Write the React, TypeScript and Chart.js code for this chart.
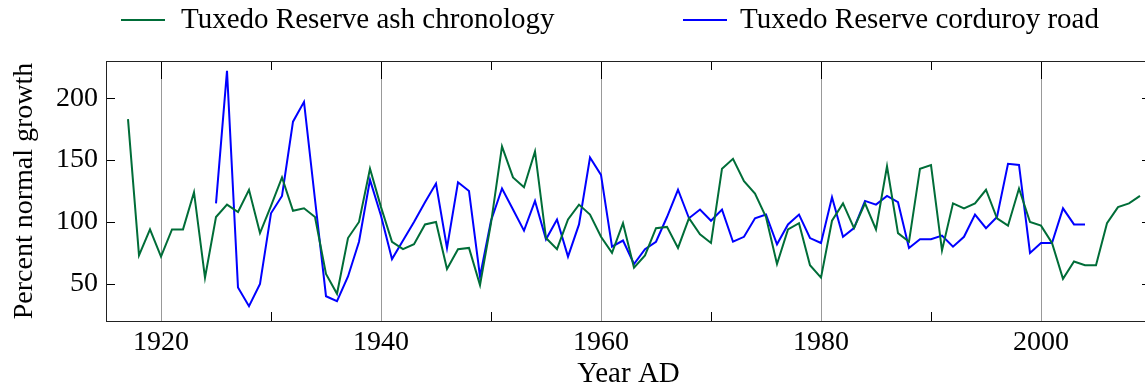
import React, { useEffect, useRef } from 'react';
import { Chart, registerables } from 'chart.js';

Chart.register(...registerables);

const years = [
  1917, 1918, 1919, 1920, 1921, 1922, 1923, 1924, 1925, 1926,
  1927, 1928, 1929, 1930, 1931, 1932, 1933, 1934, 1935, 1936,
  1937, 1938, 1939, 1940, 1941, 1942, 1943, 1944, 1945, 1946,
  1947, 1948, 1949, 1950, 1951, 1952, 1953, 1954, 1955, 1956,
  1957, 1958, 1959, 1960, 1961, 1962, 1963, 1964, 1965, 1966,
  1967, 1968, 1969, 1970, 1971, 1972, 1973, 1974, 1975, 1976,
  1977, 1978, 1979, 1980, 1981, 1982, 1983, 1984, 1985, 1986,
  1987, 1988, 1989, 1990, 1991, 1992, 1993, 1994, 1995, 1996,
  1997, 1998, 1999, 2000, 2001, 2002, 2003, 2004, 2005, 2006,
  2007, 2008, 2009,
];

const ashValues = [
  183, 73, 94, 72, 94, 94, 124, 55, 104, 114,
  108, 126, 91, 113, 136, 109, 111, 104, 58, 42,
  87, 100, 143, 112, 84, 78, 82, 98, 100, 62,
  78, 79, 49, 99, 161, 136, 128, 157, 87, 78,
  102, 114, 106, 88, 75, 99, 63, 73, 95, 96,
  79, 103, 90, 83, 143, 151, 133, 123, 104, 66,
  94, 99, 65, 55, 101, 115, 95, 115, 94, 145,
  91, 84, 143, 146, 77, 115, 111, 115, 126, 103,
  97, 127, 100, 97, 83, 54, 68, 65, 65, 99,
  112, 115, 121,
];

const roadValues = [
  null, null, null, null, null, null, null, null, 115, 222,
  47, 32, 50, 107, 121, 181, 197, 118, 40, 36,
  56, 84, 134, 105, 70, 85, 100, 116, 131, 79,
  132, 125, 56, 101, 127, 110, 93, 117, 86, 102,
  72, 98, 152, 138, 80, 85, 66, 78, 84, 104,
  126, 103, 110, 101, 110, 84, 88, 103, 106, 82,
  98, 106, 87, 83, 120, 88, 95, 117, 114, 121,
  116, 79, 86, 86, 89, 80, 88, 106, 95, 104,
  147, 146, 75, 83, 83, 111, 98, 98, null, null,
  null, null, null,
];

const xMajorTicks = [1920, 1940, 1960, 1980, 2000];
const xMinorTicks = [1930, 1950, 1970, 1990];
const yTicks = [50, 100, 150, 200];
const seriesNames = ['Tuxedo Reserve ash chronology', 'Tuxedo Reserve corduroy road'];
const xTitle = 'Year AD';
const yTitle = 'Percent normal growth';

const ASH_COLOR = '#006d38';
const ROAD_COLOR = '#0000ff';
const FONT = '"Liberation Serif", "Times New Roman", serif';

const framePlugin = {
  id: 'frameTicks',
  beforeDatasetsDraw(chart: any) {
    const { ctx, chartArea: a, scales } = chart;
    const xs = scales.x;
    const ys = scales.y;
    ctx.save();
    ctx.strokeStyle = '#000';
    ctx.lineWidth = 1;
    ctx.beginPath();
    xMinorTicks.forEach((v) => {
      const px = Math.round(xs.getPixelForValue(v)) + 0.5;
      ctx.moveTo(px, a.top);
      ctx.lineTo(px, a.top + 9);
      ctx.moveTo(px, a.bottom);
      ctx.lineTo(px, a.bottom - 9);
    });
    xMajorTicks.forEach((v) => {
      const px = Math.round(xs.getPixelForValue(v)) + 0.5;
      ctx.moveTo(px, a.top);
      ctx.lineTo(px, a.top + 18);
    });
    yTicks.forEach((v) => {
      const py = Math.round(ys.getPixelForValue(v)) + 0.5;
      ctx.moveTo(a.left, py);
      ctx.lineTo(a.left + 9, py);
      ctx.moveTo(a.right, py);
      ctx.lineTo(a.right - 9, py);
    });
    ctx.stroke();
    ctx.strokeStyle = '#222';
    ctx.strokeRect(Math.round(a.left) + 0.5, Math.round(a.top) + 0.5, Math.round(a.right - a.left), Math.round(a.bottom - a.top));
    ctx.restore();
  },
};

const legendPlugin = {
  id: 'customLegend',
  afterDraw(chart: any) {
    const { ctx } = chart;
    const items = [
      { color: ASH_COLOR, x: 121, tx: 181, text: seriesNames[0] },
      { color: ROAD_COLOR, x: 683, tx: 740, text: seriesNames[1] },
    ];
    ctx.save();
    ctx.font = `29px ${FONT}`;
    ctx.textBaseline = 'middle';
    ctx.textAlign = 'left';
    items.forEach((it) => {
      ctx.strokeStyle = it.color;
      ctx.lineWidth = 2;
      ctx.beginPath();
      ctx.moveTo(it.x, 20);
      ctx.lineTo(it.x + 44, 20);
      ctx.stroke();
      ctx.fillStyle = '#000';
      ctx.fillText(it.text, it.tx, 20);
    });
    ctx.restore();
  },
};

export default function App() {
  const ref = useRef<HTMLCanvasElement | null>(null);
  useEffect(() => {
    if (!ref.current) return;
    Chart.defaults.font.family = FONT;
    Chart.defaults.font.size = 28;
    Chart.defaults.color = '#000';
    const chart = new Chart(ref.current, {
      type: 'line',
      data: {
        datasets: [
          {
            label: seriesNames[0],
            data: years.map((yr, i) => ({ x: yr, y: ashValues[i] })),
            borderColor: ASH_COLOR,
            backgroundColor: ASH_COLOR,
            borderWidth: 2,
            pointRadius: 0,
            tension: 0,
          },
          {
            label: seriesNames[1],
            data: years.map((yr, i) => ({ x: yr, y: roadValues[i] })),
            borderColor: ROAD_COLOR,
            backgroundColor: ROAD_COLOR,
            borderWidth: 2,
            pointRadius: 0,
            tension: 0,
            spanGaps: false,
          },
        ],
      },
      options: {
        animation: false,
        responsive: true,
        maintainAspectRatio: false,
        layout: { padding: { top: 61, right: 9, bottom: 0, left: 0 } },
        plugins: { legend: { display: false }, tooltip: { enabled: false } },
        scales: {
          x: {
            type: 'linear',
            min: 1915,
            max: 2010,
            afterBuildTicks: (scale: any) => {
              scale.ticks = [...xMajorTicks, ...xMinorTicks].sort((a, b) => a - b).map((v) => ({ value: v }));
            },
            afterFit: (scale: any) => {
              scale.height = 67;
            },
            ticks: {
              autoSkip: false,
              maxRotation: 0,
              padding: 5,
              font: { size: 28 },
              callback: (v: any) => (xMajorTicks.includes(Number(v)) ? String(v) : ''),
            },
            grid: {
              drawTicks: false,
              lineWidth: 1,
              color: (c: any) => (c.tick && xMajorTicks.includes(c.tick.value) ? '#999' : 'rgba(0,0,0,0)'),
            },
            border: { display: false },
            title: { display: true, text: xTitle, font: { size: 29 }, padding: { top: 0, bottom: -4 } },
          },
          y: {
            type: 'linear',
            min: 20,
            max: 230,
            afterBuildTicks: (scale: any) => {
              scale.ticks = yTicks.map((v) => ({ value: v }));
            },
            afterFit: (scale: any) => {
              scale.width = 106;
            },
            ticks: { padding: 8, font: { size: 28 } },
            grid: { display: false, drawTicks: false },
            border: { display: false },
            title: { display: true, text: yTitle, font: { size: 28 }, padding: { top: 8, bottom: 0 } },
          },
        },
      },
      plugins: [framePlugin, legendPlugin],
    });
    return () => chart.destroy();
  }, []);

  return (
    <div style={{ position: 'absolute', left: 0, top: 0, width: 1145, height: 388, overflow: 'hidden', background: '#fff' }}>
      <div style={{ position: 'relative', width: 1160, height: 388 }}>
        <canvas ref={ref} />
      </div>
    </div>
  );
}
